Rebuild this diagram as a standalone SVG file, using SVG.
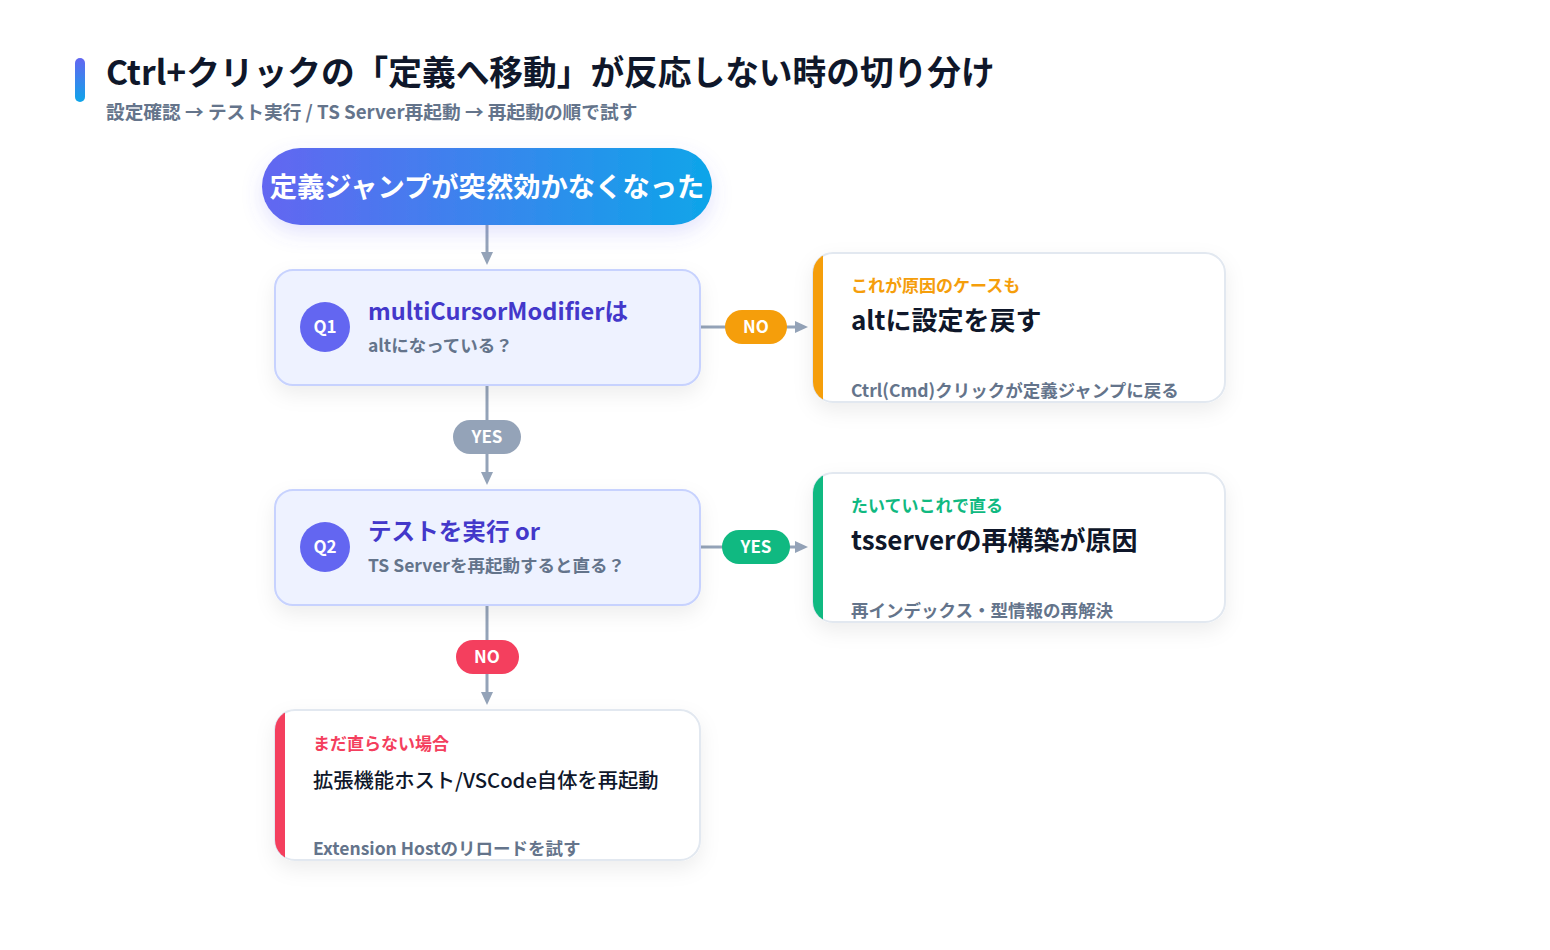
<svg xmlns="http://www.w3.org/2000/svg" width="1550" height="950" viewBox="0 0 1550 950">
<defs>
<linearGradient id="gAccent" x1="0" y1="0" x2="0" y2="1"><stop offset="0" stop-color="#6366f1"/><stop offset="1" stop-color="#0ea5e9"/></linearGradient>
<linearGradient id="gStart" x1="0" y1="0" x2="1" y2="0"><stop offset="0" stop-color="#6366f1"/><stop offset="1" stop-color="#0ea5e9"/></linearGradient>
<filter id="shadow" x="-20%" y="-30%" width="140%" height="170%"><feDropShadow dx="0" dy="8" stdDeviation="10" flood-color="#0f172a" flood-opacity="0.07"/></filter>
<filter id="shadowStart" x="-20%" y="-40%" width="140%" height="190%"><feDropShadow dx="0" dy="8" stdDeviation="10" flood-color="#6366f1" flood-opacity="0.18"/></filter>
<clipPath id="c1"><rect x="813" y="253" width="412" height="149" rx="20"/></clipPath>
<clipPath id="c2"><rect x="813" y="473" width="412" height="149" rx="20"/></clipPath>
<clipPath id="c3"><rect x="275" y="710" width="425" height="150" rx="20"/></clipPath>
</defs>
<style>
text{font-family:"Noto Sans CJK JP","Noto Sans",sans-serif;}
.title{font-size:33.7px;font-weight:700;fill:#0f172a;}
.sub{font-size:18.7px;font-weight:700;fill:#64748b;}
.qbox{fill:#eef2ff;stroke:#c7d2fe;stroke-width:2;}
.qc{fill:#6366f1;}
.qn{font-size:17px;font-weight:700;fill:#ffffff;text-anchor:middle;}
.qt{font-size:23.6px;font-weight:700;fill:#4338ca;}
.qs{font-size:17.5px;font-weight:700;fill:#64748b;}
.abox{fill:#ffffff;stroke:#e2e8f0;stroke-width:2;}
.al{font-size:17px;font-weight:700;}
.at{font-size:26px;font-weight:700;fill:#0f172a;}
.at2{font-size:20.3px;font-weight:500;fill:#0f172a;}
.ad{font-size:17.5px;font-weight:700;fill:#64748b;}
.edge{stroke:#94a3b8;stroke-width:3;fill:none;}
.ah{fill:#94a3b8;}
.pl{font-size:17px;font-weight:700;fill:#ffffff;text-anchor:middle;}
</style>
<rect x="75" y="58" width="10" height="44" rx="5" fill="url(#gAccent)"/>
<text class="title" x="106" y="85">Ctrl+クリックの「定義へ移動」が反応しない時の切り分け</text>
<text class="sub" x="106" y="119">設定確認 → テスト実行 / TS Server再起動 → 再起動の順で試す</text>

<g id="connectors">
<line class="edge" x1="487" y1="225" x2="487" y2="256"/>
<polygon class="ah" points="481,252 493,252 487,265"/>
<line class="edge" x1="700" y1="327" x2="798" y2="327"/>
<polygon class="ah" points="795,321 795,333 808,327"/>
<line class="edge" x1="487" y1="385" x2="487" y2="476"/>
<polygon class="ah" points="481,472 493,472 487,485"/>
<line class="edge" x1="700" y1="547" x2="798" y2="547"/>
<polygon class="ah" points="795,541 795,553 808,547"/>
<line class="edge" x1="487" y1="605" x2="487" y2="696"/>
<polygon class="ah" points="481,692 493,692 487,705"/>
<g id="label-no1"><rect x="725" y="310" width="62" height="34" rx="17" fill="#f59e0b"/><text class="pl" x="756" y="333">NO</text></g>
<g id="label-yes1"><rect x="453" y="420" width="68" height="34" rx="17" fill="#94a3b8"/><text class="pl" x="487" y="443">YES</text></g>
<g id="label-yes2"><rect x="722" y="530" width="68" height="34" rx="17" fill="#10b981"/><text class="pl" x="756" y="553">YES</text></g>
<g id="label-no2"><rect x="456" y="640" width="63" height="34" rx="17" fill="#f43f5e"/><text class="pl" x="487" y="663">NO</text></g>
</g>

<g id="start">
<rect x="262" y="148" width="450" height="77" rx="38.5" fill="url(#gStart)" filter="url(#shadowStart)"/>
<text x="487" y="197" font-size="27.3" font-weight="700" fill="#ffffff" text-anchor="middle">定義ジャンプが突然効かなくなった</text>
</g>

<g id="q1">
<rect class="qbox" x="275" y="270" width="425" height="115" rx="18" filter="url(#shadow)"/>
<circle class="qc" cx="325" cy="327" r="25"/>
<text class="qn" x="325" y="333">Q1</text>
<text class="qt" x="368" y="320">multiCursorModifierは</text>
<text class="qs" x="368" y="352">altになっている？</text>
</g>

<g id="q2">
<rect class="qbox" x="275" y="490" width="425" height="115" rx="18" filter="url(#shadow)"/>
<circle class="qc" cx="325" cy="547" r="25"/>
<text class="qn" x="325" y="553">Q2</text>
<text class="qt" x="368" y="540">テストを実行 or</text>
<text class="qs" x="368" y="572">TS Serverを再起動すると直る？</text>
</g>

<g id="a1">
<rect class="abox" x="813" y="253" width="412" height="149" rx="20" filter="url(#shadow)"/>
<rect x="813" y="253" width="10" height="149" fill="#f59e0b" clip-path="url(#c1)"/>
<text class="al" x="851" y="292" fill="#f59e0b">これが原因のケースも</text>
<text class="at" x="851" y="330">altに設定を戻す</text>
<text class="ad" x="851" y="397">Ctrl(Cmd)クリックが定義ジャンプに戻る</text>
</g>

<g id="a2">
<rect class="abox" x="813" y="473" width="412" height="149" rx="20" filter="url(#shadow)"/>
<rect x="813" y="473" width="10" height="149" fill="#10b981" clip-path="url(#c2)"/>
<text class="al" x="851" y="512" fill="#10b981">たいていこれで直る</text>
<text class="at" x="851" y="550">tsserverの再構築が原因</text>
<text class="ad" x="851" y="617">再インデックス・型情報の再解決</text>
</g>

<g id="a3">
<rect class="abox" x="275" y="710" width="425" height="150" rx="20" filter="url(#shadow)"/>
<rect x="275" y="710" width="10" height="150" fill="#f43f5e" clip-path="url(#c3)"/>
<text class="al" x="313" y="750" fill="#f43f5e">まだ直らない場合</text>
<text class="at2" x="313" y="788">拡張機能ホスト/VSCode自体を再起動</text>
<text class="ad" x="313" y="855">Extension Hostのリロードを試す</text>
</g>
</svg>
